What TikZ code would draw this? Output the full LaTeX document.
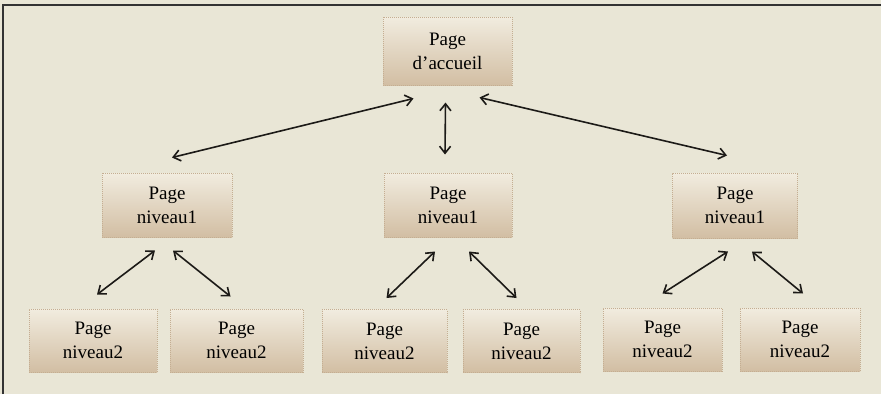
\documentclass[tikz,border=0pt]{standalone}
\usepackage{fontspec}
\setmainfont{Liberation Serif}
\usetikzlibrary{arrows.meta,positioning,calc}
\definecolor{fond}{HTML}{E9E6D6}
\definecolor{cadre}{HTML}{C4AE92}
\definecolor{haut}{HTML}{F1ECDF}
\definecolor{bas}{HTML}{D2BEA3}
\definecolor{trait}{HTML}{1C1A17}
\tikzset{>={Straight Barb[length=7pt,width=11pt]}}
\tikzset{page/.style={draw=cadre,densely dotted,line width=1pt,top color=haut,bottom color=bas,
    minimum width=126pt,minimum height=63pt,inner sep=0pt,align=center,
    font=\fontsize{19}{24}\selectfont}}

\begin{document}
\begin{tikzpicture}[x=1pt,y=-1pt]
    \fill [fond] (0,0) rectangle (881,394);
    \useasboundingbox (0,0) rectangle (881,394);
    \draw [line width=2pt,color=black!80] (3,394) -- (3,4.5) -- (881,4.5);
    \node [page,minimum width=129pt,minimum height=68pt] (acc) at (447.5,51) {Page\\d'accueil};
    \node [page,minimum width=130pt,minimum height=64pt] (na) at (167,205) {Page\\niveau1};
    \node [page,minimum width=128pt,minimum height=64pt] (nb) at (448,205) {Page\\niveau1};
    \node [page,minimum width=125pt,minimum height=65pt] (nc) at (735,205.5) {Page\\niveau1};
    \node [page,minimum width=128pt] (a1) at (93,340.5) {Page\\niveau2};
    \node [page,minimum width=133pt] (a2) at (236.5,340.5) {Page\\niveau2};
    \node [page,minimum width=125pt] (b1) at (384.5,341) {Page\\niveau2};
    \node [page,minimum width=117pt] (b2) at (521.5,341) {Page\\niveau2};
    \node [page,minimum width=119pt] (c1) at (662.5,339.5) {Page\\niveau2};
    \node [page,minimum width=120pt] (c2) at (800,339.5) {Page\\niveau2};
    \begin{scope}[<->,line width=1.6pt,color=trait]
    \draw ($(acc.south)+(-34,13)$) -- ($(na.north)+(5,-15)$);
    \draw ($(acc.south)+(-2,17)$) -- ($(nb.north)+(-3,-18)$);
    \draw ($(acc.south)+(32,12)$) -- ($(nc.north)+(-8,-17)$);
    \draw ($(na.south)+(-12,13)$) -- ($(a1.north)+(4,-14)$);
    \draw ($(na.south)+(6,13)$) -- ($(a2.north)+(-6,-12)$);
    \draw ($(nb.south)+(-13,14)$) -- ($(b1.north)+(2,-11)$);
    \draw ($(nb.south)+(21,14)$) -- ($(b2.north)+(-5,-11)$);
    \draw ($(nc.south)+(-7,13)$) -- ($(c1.north)+(0,-14)$);
    \draw ($(nc.south)+(17,13)$) -- ($(c2.north)+(3,-14)$);
    \end{scope}
  \end{tikzpicture}
\end{document}
